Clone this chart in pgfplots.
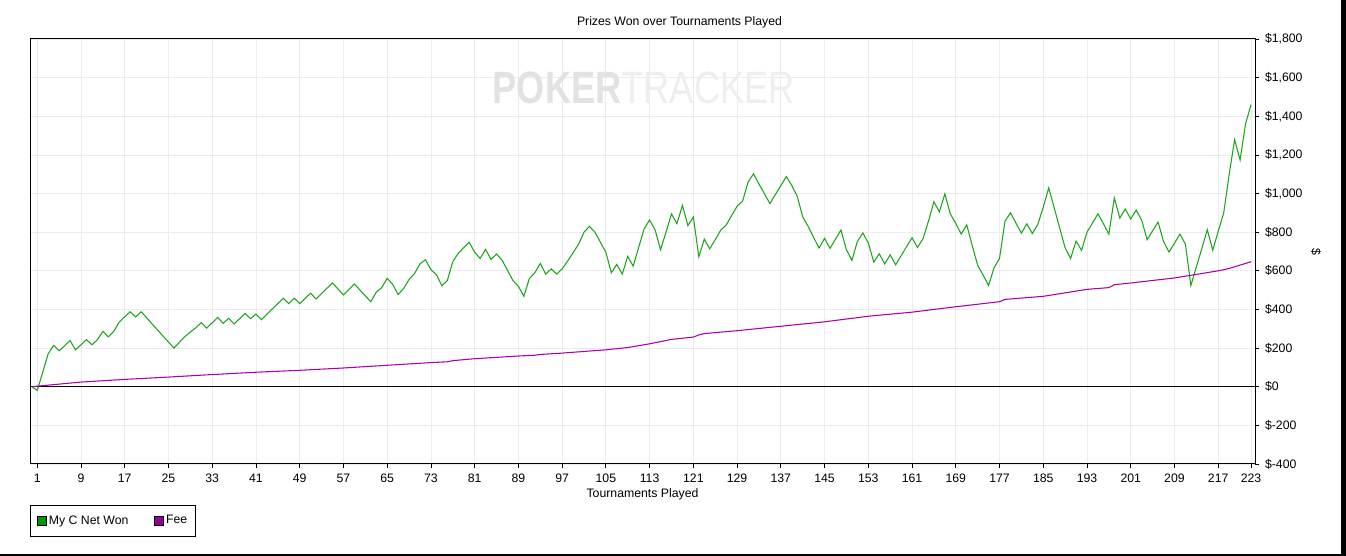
\documentclass[border=0pt]{standalone}
\usepackage{pgfplots}
\pgfplotsset{compat=1.18}
\usepackage{fontspec}
\setmainfont{Liberation Sans}
\definecolor{netgreen}{RGB}{30,165,30}
\definecolor{feepurple}{RGB}{170,0,170}
\definecolor{leggreen}{RGB}{0,150,0}
\definecolor{legpurple}{RGB}{150,0,150}
\definecolor{gridgray}{RGB}{235,235,235}
\definecolor{wmgrayA}{RGB}{226,226,226}
\definecolor{wmgrayB}{RGB}{238,238,238}
\begin{document}
\begin{tikzpicture}
\path[use as bounding box] (0,0) rectangle (1009.5pt,417pt);
\begin{axis}[
  at={(22.5pt,69pt)}, anchor=south west,
  scale only axis, width=918.75pt, height=318.75pt,
  xmin=-0.33, xmax=223.73, ymin=-400, ymax=1800,
  axis line style={black, line width=0.75pt},
  xtick={1,9,...,217,223},
  ytick={-400,-200,...,1800},
  yticklabels={\$-400,\$-200,\$0,\$200,\$400,\$600,\$800,\$1{,}000,\$1{,}200,\$1{,}400,\$1{,}600,\$1{,}800},
  yticklabel pos=right,
  tick align=outside, major tick length=3pt,
  tick style={black, line width=0.6pt},
  xtick pos=bottom, ytick pos=right,
  grid=major, major grid style={gridgray, line width=0.6pt},
  ticklabel style={font=\fontsize{9.2}{11}\selectfont},
  /pgf/number format/assume math mode=true,
  xticklabel style={yshift=-1pt},
  yticklabel style={xshift=1pt},
  title={Prizes Won over Tournaments Played},
  title style={at={(0.5,1)}, anchor=center, yshift=6.75pt, xshift=27.75pt, font=\fontsize{9.2}{11}\selectfont},
  xlabel={Tournaments Played},
  xlabel style={at={(0.5,0)}, anchor=center, yshift=-22.5pt, font=\fontsize{9.2}{11}\selectfont},
  legend columns=2,
  legend style={at={(0,0)}, anchor=north west, yshift=-30.75pt, draw=black, line width=0.75pt,
    font=\fontsize{9.2}{11}\selectfont, inner xsep=4.5pt, inner ysep=5.5pt,
    /tikz/every even column/.append style={column sep=17pt}},
  legend cell align=left,
]
\node[font=\fontsize{34}{36}\selectfont, xscale=0.8] at (rel axis cs:0.501,0.886) {\textcolor{wmgrayA}{\textbf{POKER}}\textcolor{wmgrayB}{TRACKER}};
\draw[black, line width=0.75pt] (axis cs:-0.33,0) -- (axis cs:223.73,0);
\addplot[netgreen, line width=0.8pt, mark=none,
  legend image code/.code={\draw[fill=leggreen, draw=black, line width=0.5pt] (1pt,-3.4pt) rectangle (7.8pt,3.4pt);}]
coordinates {
(0,0)(1,-19)(2,75)(3,171)(4,214)(5,186)(6,212)(7,239)(8,191)(9,217)
(10,244)(11,217)(12,243)(13,287)(14,258)(15,287)(16,335)(17,362)(18,388)(19,361)
(20,388)(21,357)(22,325)(23,294)(24,262)(25,231)(26,200)(27,230)(28,260)(29,283)
(30,305)(31,332)(32,303)(33,331)(34,359)(35,328)(36,354)(37,325)(38,352)(39,380)
(40,352)(41,376)(42,347)(43,375)(44,403)(45,430)(46,458)(47,430)(48,458)(49,430)
(50,457)(51,484)(52,454)(53,482)(54,510)(55,537)(56,506)(57,475)(58,503)(59,532)
(60,501)(61,470)(62,440)(63,489)(64,513)(65,561)(66,530)(67,477)(68,508)(69,555)
(70,586)(71,636)(72,657)(73,606)(74,580)(75,523)(76,549)(77,648)(78,690)(79,720)
(80,748)(81,696)(82,664)(83,711)(84,659)(85,687)(86,656)(87,603)(88,550)(89,520)
(90,468)(91,560)(92,590)(93,638)(94,583)(95,610)(96,583)(97,610)(98,650)(99,694)
(100,737)(101,800)(102,830)(103,800)(104,748)(105,696)(106,590)(107,633)(108,583)(109,675)
(110,624)(111,722)(112,817)(113,863)(114,812)(115,709)(116,800)(117,894)(118,844)(119,939)
(120,834)(121,879)(122,673)(123,764)(124,714)(125,761)(126,810)(127,837)(128,886)(129,934)
(130,960)(131,1059)(132,1102)(133,1050)(134,999)(135,948)(136,995)(137,1041)(138,1088)(139,1042)
(140,986)(141,879)(142,830)(143,773)(144,718)(145,768)(146,716)(147,764)(148,811)(149,709)
(150,654)(151,752)(152,796)(153,744)(154,645)(155,688)(156,636)(157,683)(158,631)(159,678)
(160,725)(161,771)(162,721)(163,766)(164,857)(165,957)(166,905)(167,998)(168,895)(169,845)
(170,790)(171,838)(172,731)(173,629)(174,578)(175,524)(176,616)(177,664)(178,857)(179,900)
(180,847)(181,795)(182,843)(183,793)(184,840)(185,929)(186,1029)(187,926)(188,822)(189,719)
(190,664)(191,754)(192,706)(193,800)(194,847)(195,895)(196,844)(197,790)(198,977)(199,873)
(200,920)(201,868)(202,914)(203,862)(204,761)(205,807)(206,852)(207,752)(208,697)(209,743)
(210,790)(211,738)(212,524)(213,620)(214,715)(215,813)(216,707)(217,804)(218,899)(219,1098)
(220,1279)(221,1174)(222,1360)(223,1460)
};
\addlegendentry{My C Net Won}
\addplot[feepurple, line width=0.8pt, mark=none,
  legend image code/.code={\draw[fill=legpurple, draw=black, line width=0.5pt] (1pt,-3.4pt) rectangle (7.8pt,3.4pt);}]
coordinates {
(0,0)(1,3)(9,24)(17,38)(25,50)(33,63)(41,75)(49,85)(57,97)(65,111)(73,125)(76,129)(77,135)
(81,145)(89,159)(92,163)(93,167)(97,174)(105,191)(109,203)(113,222)(117,245)(121,257)(122,268)
(123,275)(129,290)(137,313)(145,336)(153,365)(161,386)(169,414)(177,440)(178,452)(185,468)
(193,504)(197,513)(198,528)(201,537)(209,563)(217,600)(219,612)(223,647)
};
\addlegendentry{Fee}
\end{axis}
\node[rotate=-90, font=\fontsize{9.2}{11}\selectfont] at (987pt,228pt) {\$};
\draw[black, line width=1.8pt] (0,0.9pt) -- (1007.6pt,0.9pt);
\draw[black, line width=3.6pt] (1007.7pt,0) -- (1007.7pt,417pt);
\end{tikzpicture}
\end{document}
